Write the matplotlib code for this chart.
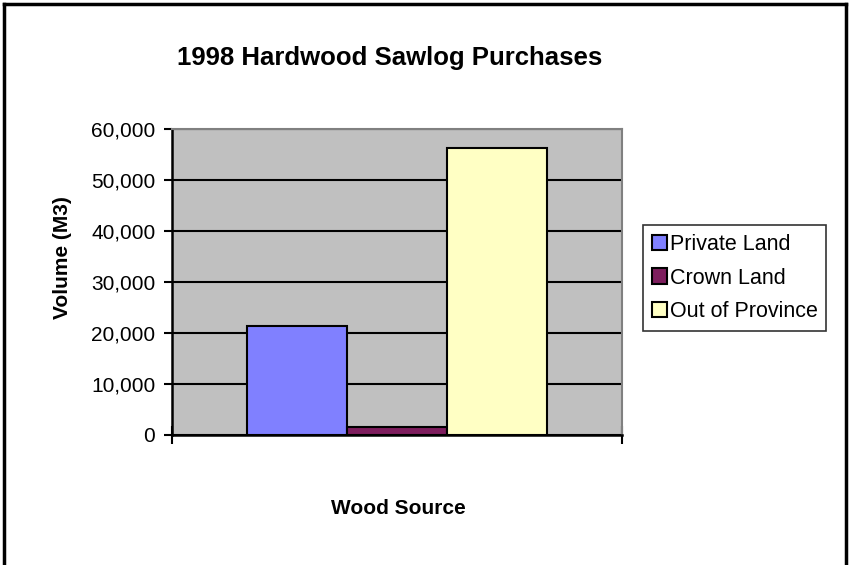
import matplotlib
matplotlib.use("Agg")
import matplotlib.pyplot as plt
from matplotlib.lines import Line2D
from matplotlib.ticker import FuncFormatter

plt.rcParams['font.family'] = ['Liberation Sans', 'DejaVu Sans']

TITLE = "1998 Hardwood Sawlog Purchases"
SERIES = ["Private Land", "Crown Land", "Out of Province"]
VOLUMES = [21400, 1500, 56300]
COLORS = ["#8080FF", "#7E1E5E", "#FFFFC4"]
Y_TICKS = [0, 10000, 20000, 30000, 40000, 50000, 60000]

W, H = 849, 565
fig = plt.figure(figsize=(W / 100, H / 100), dpi=100)

# plot area in pixels: x 172-622, y 129.5-435
ax = fig.add_axes([172 / W, 1 - 435 / H, 450 / W, 305.5 / H])
ax.set_facecolor("#C0C0C0")

# one category, three series side by side (gap width 50%)
group = 2 / 3
bw = group / len(SERIES)
for i, (name, val, col) in enumerate(zip(SERIES, VOLUMES, COLORS)):
    x = -group / 2 + bw * (i + 0.5)
    ax.bar(x, val, width=bw, color=col, edgecolor="black", linewidth=1.5,
           label=name, zorder=3)

ax.set_xlim(-0.5, 0.5)
ax.set_ylim(0, 60000)
ax.set_yticks(Y_TICKS)
ax.yaxis.set_major_formatter(FuncFormatter(lambda v, p: f"{int(v):,}"))
ax.grid(axis="y", color="black", linewidth=1.5, zorder=1)
ax.set_axisbelow(True)

ax.set_xticks([-0.5, 0.5])
ax.set_xticklabels([])
ax.tick_params(axis="x", direction="inout", length=13, width=1.5, color="black")
ax.tick_params(axis="y", direction="out", length=6, width=1.5, pad=6,
               labelsize=15, color="black")

for side in ("top", "right"):
    ax.spines[side].set_color("#808080")
    ax.spines[side].set_linewidth(1.5)
for side in ("left", "bottom"):
    ax.spines[side].set_color("black")
    ax.spines[side].set_linewidth(1.8)

fig.text(390 / W, 1 - 58 / H, TITLE, ha="center", va="center",
         fontsize=18.5, fontweight="bold")
fig.text(398 / W, 1 - 509 / H, "Wood Source", ha="center", va="center",
         fontsize=15, fontweight="bold")
fig.text(62 / W, 1 - 258 / H, "Volume (M3)", ha="center", va="center",
         rotation=90, fontsize=15, fontweight="bold")

leg = fig.legend(loc="upper left", bbox_to_anchor=(643 / W, 1 - 225 / H),
                 fontsize=15.5, frameon=True, fancybox=False,
                 edgecolor="black", handlelength=0.7, handleheight=0.7,
                 handletextpad=0.15, borderpad=0.4, labelspacing=0.6,
                 borderaxespad=0)
leg.get_frame().set_linewidth(1.2)

# outer chart border (bottom edge is cut off in the original)
for xs, ys in [([4 / W, 4 / W], [0, 1 - 4 / H]),
               ([4 / W, 846 / W], [1 - 4 / H, 1 - 4 / H]),
               ([846 / W, 846 / W], [1 - 4 / H, 0])]:
    fig.add_artist(Line2D(xs, ys, color="black", linewidth=2.5,
                          transform=fig.transFigure))

fig.savefig("out.png", dpi=100)
